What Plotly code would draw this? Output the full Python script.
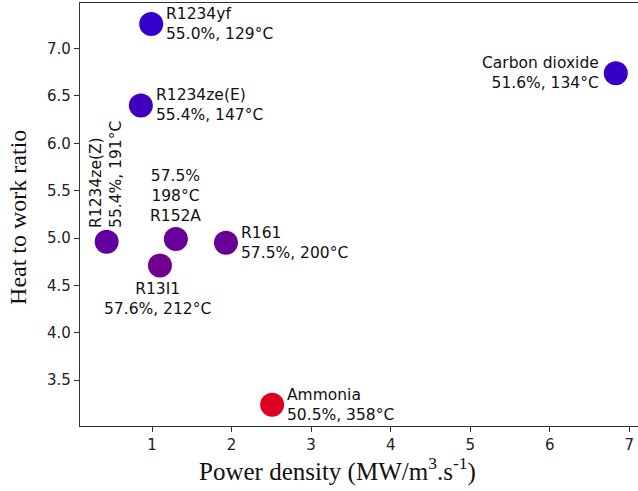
import plotly.graph_objects as go

# ---- data ----
names = ["R1234yf", "R1234ze(E)", "Carbon dioxide", "R1234ze(Z)", "R152A", "R161", "R13I1", "Ammonia"]
power_density = [0.99, 0.86, 6.83, 0.43, 1.30, 1.93, 1.10, 2.51]
heat_to_work = [7.26, 6.40, 6.74, 4.96, 4.99, 4.95, 4.71, 3.24]
efficiency = [55.0, 55.4, 51.6, 55.4, 57.5, 57.5, 57.6, 50.5]
temperature = [129, 147, 134, 191, 198, 200, 212, 358]
x_ticks = [1, 2, 3, 4, 5, 6, 7]
y_ticks = [3.5, 4.0, 4.5, 5.0, 5.5, 6.0, 6.5, 7.0]

# ---- label placement (style) ----
placement = ["right", "right", "left", "rotated", "above", "right", "below", "right"]

fig = go.Figure()
fig.add_trace(go.Scatter(
    x=power_density, y=heat_to_work, mode="markers",
    marker=dict(size=24, color=temperature, cmin=min(temperature), cmax=max(temperature),
                colorscale=[[0, "#3300cc"], [1, "#dd0022"]], line=dict(width=0), opacity=1),
    hoverinfo="skip", showlegend=False,
))

font_txt = dict(family="DejaVu Sans", size=15.5, color="#111111")
for n, px, py, e, t, p in zip(names, power_density, heat_to_work, efficiency, temperature, placement):
    base = f"{n}<br>{e:.1f}%, {t}°C"
    a = dict(x=px, y=py, xref="x", yref="y", showarrow=False, font=font_txt)
    if p == "right":
        a.update(text=base, xanchor="left", yanchor="middle", align="left", xshift=13)
    elif p == "left":
        a.update(text=base, xanchor="right", yanchor="middle", align="right", xshift=-15)
    elif p == "rotated":
        a.update(text=base, textangle=-90, xanchor="center", yanchor="bottom", align="left", yshift=12)
    elif p == "above":
        a.update(text=f"{e:.1f}%<br>{t}°C<br>{n}", xanchor="center", yanchor="bottom", align="center", yshift=12)
    elif p == "below":
        a.update(text=base, xanchor="center", yanchor="top", align="center", yshift=-13, xshift=-2)
    fig.add_annotation(**a)

# axis titles as annotations for precise placement
fig.add_annotation(text="Power density (MW/m<sup>3</sup>.s<sup>-1</sup>)", xref="paper", yref="paper",
                   x=0.4615, y=-0.103, xanchor="center", yanchor="middle", showarrow=False,
                   font=dict(family="Liberation Serif", size=25, color="#111111"))
fig.add_annotation(text="Heat to work ratio", xref="paper", yref="paper", textangle=-90,
                   x=-0.111, y=0.492, xanchor="center", yanchor="middle", showarrow=False,
                   font=dict(family="Liberation Serif", size=24, color="#111111"))

axis_common = dict(showgrid=False, zeroline=False, showline=True, linecolor="#333333", linewidth=1.2,
                   ticks="outside", ticklen=5, tickwidth=1.1, tickcolor="#333333",
                   tickfont=dict(family="DejaVu Sans", size=15, color="#222222"))
fig.update_xaxes(range=[0.095, 7.109], tickvals=x_ticks, mirror=True, **axis_common)
fig.update_yaxes(range=[3.015, 7.482], tickvals=y_ticks, tickformat=".1f", mirror=False, **axis_common)

fig.update_layout(width=638, height=491, margin=dict(l=80, r=0, t=3, b=64.5),
                  plot_bgcolor="white", paper_bgcolor="white")
fig.write_html("out.html")
